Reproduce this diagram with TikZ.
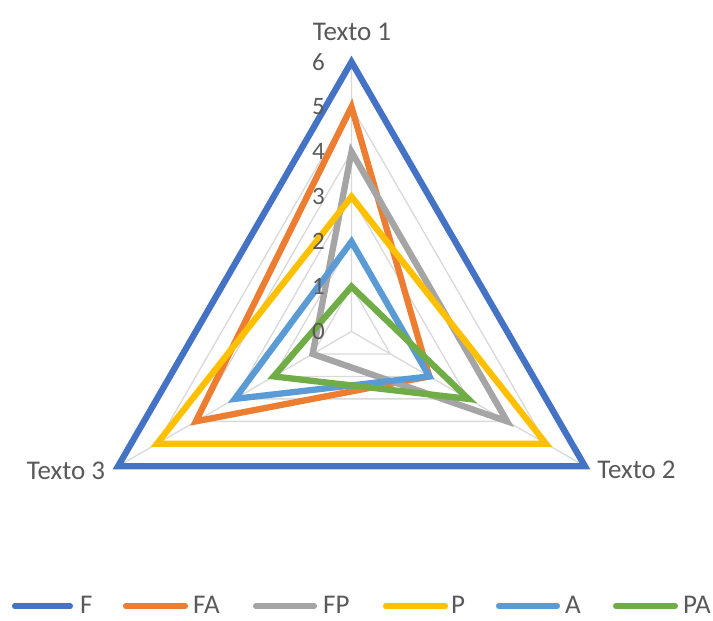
\documentclass[tikz,border=0pt]{standalone}
\usepackage{fontspec}
\setmainfont{Carlito}
\definecolor{cF}{HTML}{4472C4}
\definecolor{cFA}{HTML}{ED7D31}
\definecolor{cFP}{HTML}{A5A5A5}
\definecolor{cP}{HTML}{FFC000}
\definecolor{cA}{HTML}{5B9BD5}
\definecolor{cPA}{HTML}{70AD47}
\definecolor{txt}{HTML}{595959}
\definecolor{gridc}{HTML}{D9D9D9}
\tikzset{
  gridline/.style={draw=gridc, line width=1.3pt},
  series/.style={line width=6.3pt, line join=miter},
  lbl/.style={text=txt, font=\fontsize{27}{32}\selectfont, inner sep=0pt},
  leg/.style={line width=5.5pt, line cap=round},
}
\newcommand{\U}{44.93}
\begin{document}
\begin{tikzpicture}[x=1pt,y=1pt]
\useasboundingbox (0,0) rectangle (713,621);
\begin{scope}[shift={(351.5,289.5)}]
  \coordinate (O) at (0,0);
  \foreach \v in {1,...,6}
    \draw[gridline] (90:{\v*\U}) -- (-30:{\v*\U}) -- (210:{\v*\U}) -- cycle;
  \foreach \a [count=\i] in {90,-30,210}
    \coordinate (ax\i) at (\a:{6*\U});
  \draw[gridline] (O) -- (ax1) (O) -- (ax2) (O) -- (ax3);
  % series
  \foreach \c/\p/\q/\r in {cF/6/6/6, cFA/5/2/4, cFP/4/4/1, cP/3/5/5, cA/2/2/3, cPA/1/3/2}
    \draw[series, draw=\c] (90:{\p*\U}) -- (-30:{\q*\U}) -- (210:{\r*\U}) -- cycle;
  % scale labels
  \foreach \v in {0,...,6}
    \node[lbl, font=\fontsize{25}{30}\selectfont] (n\v) at (-33,{\v*\U}) {\v};
\end{scope}
\node[lbl] (t1) at (352,589) {Texto 1};
\node[lbl] (t2) at (636.5,151) {Texto 2};
\node[lbl] (t3) at (66,150) {Texto 3};
% legend
\foreach \c/\name/\xa/\xb/\xt in {cF/F/12/73/80, cFA/FA/123/188/193, cFP/FP/253/317/323, cP/P/383/448/451, cA/A/496/560/565, cPA/PA/613/678/683}{
  \coordinate (ls\name) at ({\xa+2.75},15);
  \coordinate (le\name) at ({\xb-2.75},15);
  \draw[leg, draw=\c] (ls\name) -- (le\name);
  \node[lbl, anchor=west] (lt\name) at (\xt,16) {\name};
}
\end{tikzpicture}
\end{document}
